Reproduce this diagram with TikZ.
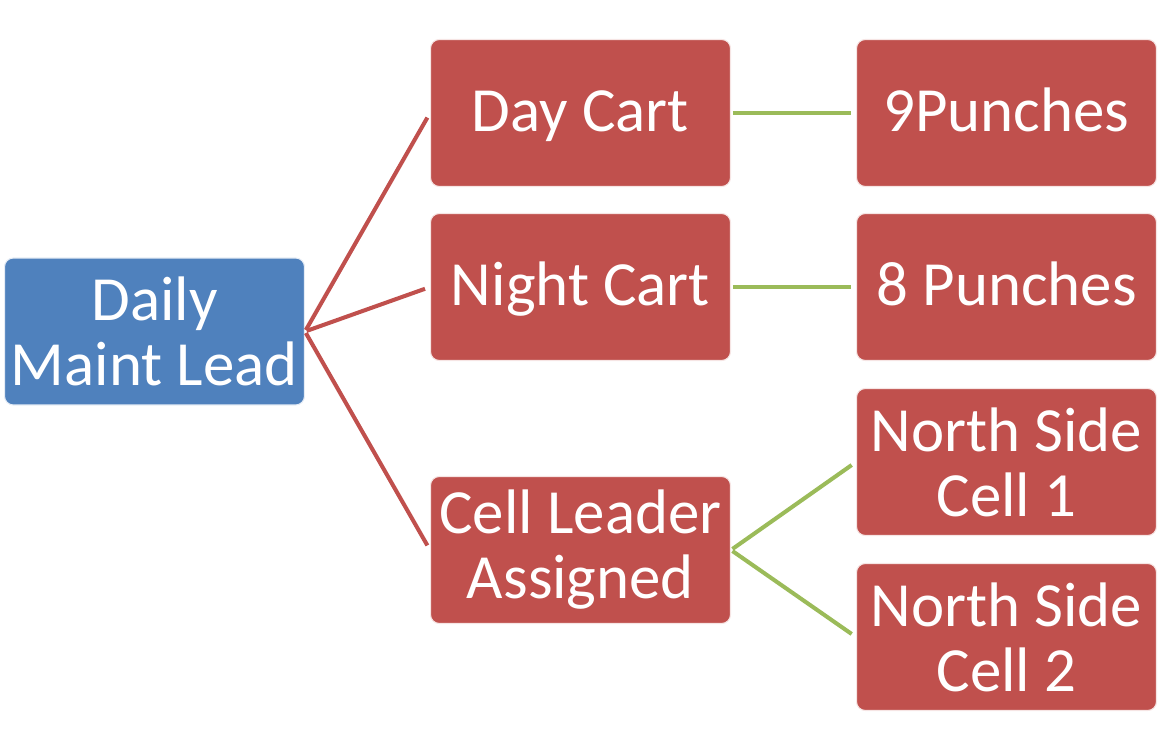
\documentclass[tikz,border=0pt]{standalone}
\usepackage{fontspec}
\setmainfont{Carlito}
\definecolor{leadblue}{HTML}{4F81BD}
\definecolor{boxred}{HTML}{C0504D}
\definecolor{linkgreen}{HTML}{9BBB59}
\tikzset{
  basebox/.style={rectangle,rounded corners=5pt,draw=white!85!boxred,line width=0.6pt,
    fill=boxred,text=white,minimum width=6cm,minimum height=2.94cm,inner sep=2pt,
    font=\fontsize{35.8}{37}\selectfont},
  box/.style={basebox,align=center},
  onebox/.style={basebox,text height=28.6pt,text depth=7.2pt},
  leadbox/.style={box,fill=leadblue,draw=white!85!leadblue},
  redlink/.style={draw=boxred,line width=2.3pt,shorten <=1pt,shorten >=3pt},
  greenlink/.style={draw=linkgreen,line width=2.3pt,shorten <=1pt,shorten >=3pt}
}
\begin{document}
\begin{tikzpicture}[x=0.02cm,y=-0.02cm]
		\useasboundingbox (0,0) rectangle (1161,751);

		\node[leadbox] (lead) at (154.5,331.5) {Daily\\Maint Lead}; %根
		\node[onebox] (day) at (580.5,113) {Day Cart};
		\node[onebox] (night) at (580.5,287) {Night Cart};
		\node[box] (cell) at (580.5,550) {Cell Leader\\Assigned};
		\node[onebox] (p9) at (1006.5,113) {9Punches};
		\node[onebox] (p8) at (1006.5,287) {8 Punches};
		\node[box] (ns1) at (1006.5,462) {North Side\\Cell 1};
		\node[box] (ns2) at (1006.5,637) {North Side\\Cell 2};

		\draw[redlink] (lead.east)--(day.west);
		\draw[redlink] (lead.east)--(night.west);
		\draw[redlink] (lead.east)--(cell.west);
		\draw[greenlink] (day.east)--(p9.west);
		\draw[greenlink] (night.east)--(p8.west);
		\draw[greenlink] (cell.east)--(ns1.west);
		\draw[greenlink] (cell.east)--(ns2.west);
	\end{tikzpicture}
\end{document}
